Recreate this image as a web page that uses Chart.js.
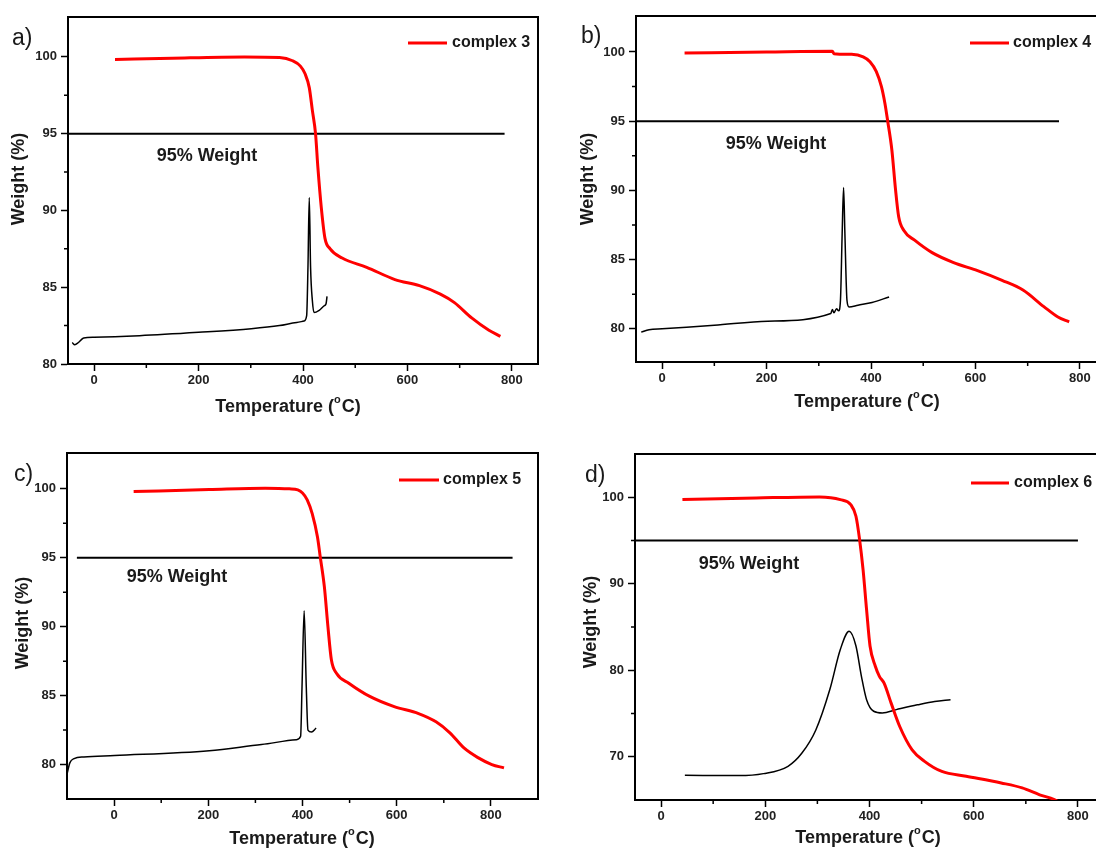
<!DOCTYPE html>
<html lang="en">
<head>
  <meta charset="UTF-8" />
  <title>TGA curves of complexes 3-6</title>
  <script src="https://cdn.jsdelivr.net/npm/chart.js"></script>
  <style>
    html, body {
      margin: 0;
      padding: 0;
      background: #fff;
      overflow: hidden;
    }
    #wrap {
      position: relative;
      width: 1096px;
      height: 849px;
      overflow: hidden;
    }
    canvas {
      position: absolute;
    }
    #chartA { left: 0; top: 0; }
    #chartB { left: 548px; top: 0; }
    #chartC { left: 0; top: 420px; }
    #chartD { left: 548px; top: 420px; }
  </style>
</head>
<body>
  <div id="wrap">
    <canvas id="chartA" width="548" height="420"></canvas>
    <canvas id="chartB" width="570" height="420"></canvas>
    <canvas id="chartC" width="548" height="429"></canvas>
    <canvas id="chartD" width="570" height="429"></canvas>
  </div>

  <script>
    // --- data ---
    const complexNames = ['complex 3', 'complex 4', 'complex 5', 'complex 6'];
    const panelLetters = ['a)', 'b)', 'c)', 'd)'];

    const tempTicks = [0, 200, 400, 600, 800];
    const tempMinorTicks = [100, 300, 500, 700];
    const weightTicks = [80, 85, 90, 95, 100];
    const weightMinorTicks = [82.5, 87.5, 92.5, 97.5];
    const weightTicksD = [70, 80, 90, 100];
    const weightMinorTicksD = [75, 85, 95];

    const thresholdWeight = 95;

    // a) complex 3
    const tgaTempA = [40, 150, 288, 355, 380, 395, 404, 412, 418, 424, 428.5, 435, 442, 452, 475, 522, 576, 623, 663, 690, 723, 756, 778];
    const tgaWeightA = [99.83, 99.92, 100, 99.96, 99.75, 99.4, 98.9, 98.0, 96.5, 95.0, 92.8, 90.2, 88.2, 87.5, 86.9, 86.3, 85.5, 85.1, 84.55, 84.0, 83.0, 82.2, 81.8];
    const dscTempA = [-42, -37, -30, -20, 0, 87, 200, 301, 355, 388, 402, 407, 409.5, 412, 414.5, 418, 421, 431, 441, 444, 446];
    const dscWeightA = [81.4, 81.26, 81.4, 81.7, 81.74, 81.84, 82.06, 82.3, 82.5, 82.7, 82.8, 83.15, 86.3, 90.85, 86.3, 84.1, 83.35, 83.5, 83.8, 83.9, 84.4];
    const thresholdSpanA = [-50, 786];

    // b) complex 4
    const tgaTempB = [43, 200, 326, 329, 363, 385, 398, 410, 420, 426.6, 432, 440, 446.6, 453, 463, 483.5, 517, 557, 604, 651, 691, 731, 758, 779.5];
    const tgaWeightB = [99.93, 100, 100.05, 99.88, 99.83, 99.65, 99.3, 98.6, 97.5, 96.3, 95.0, 92.9, 90.2, 88.1, 87.1, 86.4, 85.5, 84.8, 84.2, 83.5, 82.8, 81.6, 80.85, 80.5];
    const dscTempB = [-40, -25, 0, 100, 202, 323, 326, 329, 334, 338, 341.5, 344.8, 347.5, 350, 354, 358, 375, 402, 434.6];
    const dscWeightB = [79.76, 79.93, 80.0, 80.25, 80.55, 81.1, 81.4, 81.15, 81.45, 81.3, 82.05, 86.9, 90.2, 86.9, 82.05, 81.57, 81.7, 81.9, 82.3];
    const thresholdSpanB = [-50, 760];

    // c) complex 5
    const tgaTempC = [41.5, 202, 320.6, 372, 390, 400, 410, 420.6, 431.8, 437.7, 446.4, 454, 461.3, 472.5, 498.3, 542.8, 594.7, 646.4, 683.5, 713, 742.8, 772.5, 802, 827.8];
    const tgaWeightC = [99.8, 99.95, 100.05, 100, 99.92, 99.7, 99.2, 98.2, 96.5, 95.06, 92.9, 90.0, 87.6, 86.6, 85.9, 84.94, 84.2, 83.7, 83.1, 82.3, 81.2, 80.5, 80.0, 79.76];
    const dscTempC = [-100, -94, -85, -64, 1, 202, 313, 387, 396, 399, 403.5, 408, 411.6, 419, 429];
    const dscWeightC = [79.3, 80.12, 80.43, 80.55, 80.65, 81.0, 81.45, 81.8, 82.05, 85.66, 91.16, 85.66, 82.5, 82.36, 82.65];
    const thresholdSpanC = [-79, 846];

    // d) complex 6
    const tgaTempD = [41, 183, 304, 344, 364, 374, 381, 387.7, 394.4, 401, 411, 419, 428, 441.5, 458, 481.8, 505, 538.8, 585.6, 652.8, 693, 726.5, 754.7, 765];
    const tgaWeightD = [99.73, 99.92, 100.04, 99.73, 99.15, 97.8, 95.1, 91.6, 87.0, 82.8, 80.5, 79.3, 78.5, 76.2, 73.5, 70.8, 69.5, 68.3, 67.75, 66.97, 66.4, 65.6, 65.05, 64.7];
    const dscTempD = [45.7, 149.5, 196.5, 243.6, 270, 297, 324, 344, 361, 374, 384.5, 394.4, 408, 424.6, 451.5, 491.7, 525, 555.5];
    const dscWeightD = [67.86, 67.82, 68.05, 68.9, 70.4, 73.1, 77.8, 82.4, 84.5, 82.8, 79.3, 76.6, 75.26, 75.07, 75.45, 76.0, 76.4, 76.6];
    const thresholdSpanD = [-50, 800];

    // --- panel layout ---
    const panels = [
      {
        id: 'chartA', name: complexNames[0], letter: panelLetters[0],
        tgaT: tgaTempA, tgaW: tgaWeightA, dscT: dscTempA, dscW: dscWeightA, span: thresholdSpanA,
        xMin: -50, xMax: 850, yMin: 80, yMax: 102.6, yTicks: weightTicks, yMinor: weightMinorTicks,
        padTop: 17, padRight: 10, yAxisW: 68, xAxisH: 56,
        letterPos: [12, 45], xTitlePos: [288, 407], yTitlePos: [19, 179], labelPos: [207, 156],
        legend: { x0: 408, x1: 447, y: 43, tx: 452 }
      },
      {
        id: 'chartB', name: complexNames[1], letter: panelLetters[1],
        tgaT: tgaTempB, tgaW: tgaWeightB, dscT: dscTempB, dscW: dscWeightB, span: thresholdSpanB,
        xMin: -50, xMax: 850, yMin: 77.6, yMax: 102.6, yTicks: weightTicks, yMinor: weightMinorTicks,
        padTop: 16, padRight: 12, yAxisW: 88, xAxisH: 58,
        letterPos: [33, 43], xTitlePos: [319, 402], yTitlePos: [40, 179], labelPos: [228, 144],
        legend: { x0: 422, x1: 461, y: 43, tx: 465 }
      },
      {
        id: 'chartC', name: complexNames[2], letter: panelLetters[2],
        tgaT: tgaTempC, tgaW: tgaWeightC, dscT: dscTempC, dscW: dscWeightC, span: thresholdSpanC,
        xMin: -100, xMax: 900, yMin: 77.5, yMax: 102.6, yTicks: weightTicks, yMinor: weightMinorTicks,
        padTop: 33, padRight: 10, yAxisW: 67, xAxisH: 50,
        letterPos: [14, 61], xTitlePos: [302, 419], yTitlePos: [23, 203], labelPos: [177, 157],
        legend: { x0: 399, x1: 439, y: 60, tx: 443 }
      },
      {
        id: 'chartD', name: complexNames[3], letter: panelLetters[3],
        tgaT: tgaTempD, tgaW: tgaWeightD, dscT: dscTempD, dscW: dscWeightD, span: thresholdSpanD,
        xMin: -50, xMax: 850, yMin: 65, yMax: 105, yTicks: weightTicksD, yMinor: weightMinorTicksD,
        padTop: 34, padRight: 14, yAxisW: 87, xAxisH: 49,
        letterPos: [37, 62], xTitlePos: [320, 418], yTitlePos: [43, 202], labelPos: [201, 144],
        legend: { x0: 423, x1: 461, y: 63, tx: 466 }
      }
    ];

    const textColor = '#1a1a1a';

    function toPoints(xs, ys) {
      return xs.map((x, i) => ({ x: x, y: ys[i] }));
    }

    // frame, minor ticks, titles, legend and the "95% Weight" note
    function drawDecor(chart, p) {
      const { ctx, chartArea: a, scales: { x, y } } = chart;
      ctx.save();

      ctx.strokeStyle = '#000';
      ctx.lineWidth = 2;
      ctx.beginPath();
      ctx.moveTo(a.left - 1, a.top);
      ctx.lineTo(a.right, a.top);
      ctx.lineTo(a.right, a.bottom + 1);
      ctx.stroke();

      ctx.lineWidth = 1.5;
      ctx.beginPath();
      tempMinorTicks.forEach(v => {
        const px = x.getPixelForValue(v);
        ctx.moveTo(px, a.bottom);
        ctx.lineTo(px, a.bottom + 4);
      });
      p.yMinor.forEach(v => {
        if (v < p.yMin || v > p.yMax) return;
        const py = y.getPixelForValue(v);
        ctx.moveTo(a.left, py);
        ctx.lineTo(a.left - 4, py);
      });
      ctx.stroke();

      ctx.fillStyle = textColor;

      // panel letter
      ctx.font = '23px Arial';
      ctx.textAlign = 'left';
      ctx.textBaseline = 'alphabetic';
      ctx.fillText(p.letter, p.letterPos[0], p.letterPos[1]);

      // x title with superscript o
      ctx.textBaseline = 'middle';
      ctx.textAlign = 'left';
      const big = 'bold 18px Arial', small = 'bold 11px Arial';
      ctx.font = big;
      const w1 = ctx.measureText('Temperature (').width;
      const w3 = ctx.measureText('C)').width;
      ctx.font = small;
      const w2 = ctx.measureText('o').width + 1;
      const tx = p.xTitlePos[0] - (w1 + w2 + w3) / 2;
      const ty = p.xTitlePos[1];
      ctx.font = big;
      ctx.fillText('Temperature (', tx, ty);
      ctx.font = small;
      ctx.fillText('o', tx + w1, ty - 7);
      ctx.font = big;
      ctx.fillText('C)', tx + w1 + w2, ty);

      // y title
      ctx.textAlign = 'center';
      ctx.save();
      ctx.translate(p.yTitlePos[0], p.yTitlePos[1]);
      ctx.rotate(-Math.PI / 2);
      ctx.fillText('Weight (%)', 0, 0);
      ctx.restore();

      // threshold note
      ctx.fillText('95% Weight', p.labelPos[0], p.labelPos[1]);

      // legend
      ctx.strokeStyle = '#ff0000';
      ctx.lineWidth = 3;
      ctx.beginPath();
      ctx.moveTo(p.legend.x0, p.legend.y);
      ctx.lineTo(p.legend.x1, p.legend.y);
      ctx.stroke();
      ctx.font = 'bold 16px Arial';
      ctx.textAlign = 'left';
      ctx.fillText(p.name, p.legend.tx, p.legend.y);

      ctx.restore();
    }

    function makePanel(p) {
      const ctx = document.getElementById(p.id).getContext('2d');
      return new Chart(ctx, {
        type: 'scatter',
        data: {
          datasets: [
            {
              label: p.name,
              data: toPoints(p.tgaT, p.tgaW),
              borderColor: '#ff0000',
              borderWidth: 3,
              showLine: true,
              pointRadius: 0,
              cubicInterpolationMode: 'monotone',
              order: 0
            },
            {
              label: 'DSC',
              data: toPoints(p.dscT, p.dscW),
              borderColor: '#000',
              borderWidth: 1.5,
              showLine: true,
              pointRadius: 0,
              cubicInterpolationMode: 'monotone',
              order: 1
            },
            {
              label: '95% Weight',
              data: toPoints(p.span, [thresholdWeight, thresholdWeight]),
              borderColor: '#000',
              borderWidth: 2,
              showLine: true,
              pointRadius: 0,
              order: 2
            }
          ]
        },
        options: {
          responsive: false,
          animation: false,
          events: [],
          layout: { padding: { top: p.padTop, right: p.padRight, left: 0, bottom: 0 } },
          plugins: {
            legend: { display: false },
            tooltip: { enabled: false }
          },
          scales: {
            x: {
              type: 'linear',
              min: p.xMin,
              max: p.xMax,
              afterBuildTicks: s => { s.ticks = tempTicks.map(v => ({ value: v })); },
              afterFit: s => { s.height = p.xAxisH; },
              grid: { drawOnChartArea: false, tickLength: 7, tickWidth: 1.5, tickColor: '#000' },
              border: { color: '#000', width: 2 },
              ticks: { color: '#222', padding: 2, maxRotation: 0, font: { family: 'Arial', weight: 'bold', size: 13 } }
            },
            y: {
              type: 'linear',
              min: p.yMin,
              max: p.yMax,
              afterBuildTicks: s => { s.ticks = p.yTicks.map(v => ({ value: v })); },
              afterFit: s => { s.width = p.yAxisW; },
              grid: { drawOnChartArea: false, tickLength: 7, tickWidth: 1.5, tickColor: '#000' },
              border: { color: '#000', width: 2 },
              ticks: { color: '#222', padding: 4, font: { family: 'Arial', weight: 'bold', size: 13 } }
            }
          }
        },
        plugins: [{ id: 'decor', afterDraw: chart => drawDecor(chart, p) }]
      });
    }

    panels.forEach(makePanel);
  </script>
</body>
</html>
